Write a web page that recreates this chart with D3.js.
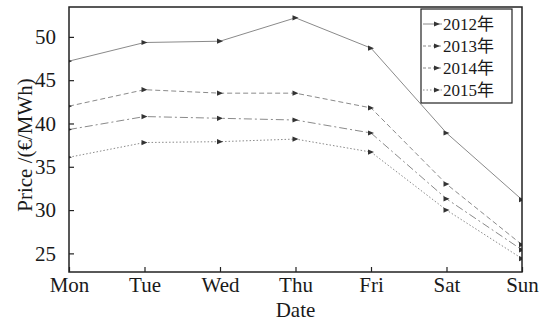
<!DOCTYPE html>
<html>
<head>
<meta charset="utf-8">
<script src="https://cdn.jsdelivr.net/npm/d3@7"></script>
<style>
  body { margin: 0; background: #fff; }
  text { font-family: "Liberation Serif", "Noto Sans CJK SC", serif; fill: #1a1a1a; }
</style>
</head>
<body>
<div id="chart"></div>
<script>
const width = 548;
const height = 323;

// data
const days = ["Mon", "Tue", "Wed", "Thu", "Fri", "Sat", "Sun"];
const years = ["2012年", "2013年", "2014年", "2015年"];
const price2012 = [47.2, 49.35, 49.5, 52.2, 48.7, 38.9, 31.2];
const price2013 = [42.0, 43.9, 43.5, 43.5, 41.8, 33.0, 26.0];
const price2014 = [39.3, 40.8, 40.6, 40.4, 38.9, 31.3, 25.4];
const price2015 = [36.1, 37.8, 37.9, 38.2, 36.7, 30.0, 24.4];
const yTicks = [25, 30, 35, 40, 45, 50];

const series = [price2012, price2013, price2014, price2015];
const dashes = [null, "5,3", "8,3,2,3", "1.5,2"];
const fontSize = "21px";

const margin = { top: 7, right: 26, bottom: 51, left: 69 };
const plotW = width - margin.left - margin.right;
const plotH = height - margin.top - margin.bottom;

const x = d3.scalePoint().domain(days).range([0, plotW]);
const y = d3.scaleLinear().domain([22.85, 53.45]).range([plotH, 0]);

const svg = d3
  .select("#chart")
  .append("svg")
  .attr("width", width)
  .attr("height", height);

svg.append("defs")
  .append("clipPath")
  .attr("id", "plot-clip")
  .append("rect")
  .attr("width", plotW)
  .attr("height", plotH);

const g = svg
  .append("g")
  .attr("transform", `translate(${margin.left},${margin.top})`);

// triangle pointing right
const tri = "M-3,-2.6 L3,0 L-3,2.6 Z";

// series lines and markers
const plot = g.append("g").attr("clip-path", "url(#plot-clip)");
const line = d3
  .line()
  .x((d, i) => x(days[i]))
  .y((d) => y(d));

series.forEach((vals, s) => {
  plot
    .append("path")
    .datum(vals)
    .attr("d", line)
    .attr("fill", "none")
    .attr("stroke", "#8a8a8a")
    .attr("stroke-width", 1)
    .attr("stroke-dasharray", dashes[s]);

  plot
    .selectAll(null)
    .data(vals)
    .enter()
    .append("path")
    .attr("d", tri)
    .attr("transform", (d, i) => `translate(${x(days[i])},${y(d)})`)
    .attr("fill", "#333");
});

// axes with inward ticks
const xAxis = g
  .append("g")
  .attr("transform", `translate(0,${plotH})`)
  .call(d3.axisBottom(x).tickSize(-5).tickPadding(11));
const yAxis = g
  .append("g")
  .call(d3.axisLeft(y).tickValues(yTicks).tickSize(-5).tickPadding(13));

[xAxis, yAxis].forEach((a) => {
  a.select(".domain").remove();
  a.selectAll(".tick line").attr("stroke", "#222").attr("stroke-width", 1.2);
  a.selectAll(".tick text")
    .style("font-size", fontSize)
    .style("font-family", '"Liberation Serif", serif')
    .attr("fill", "#1a1a1a");
});
xAxis.selectAll(".tick text").attr("dy", "0.45em");

// frame
g.append("rect")
  .attr("width", plotW)
  .attr("height", plotH)
  .attr("fill", "none")
  .attr("stroke", "#222")
  .attr("stroke-width", 1.5);

// axis titles
svg
  .append("text")
  .attr("x", margin.left + plotW / 2)
  .attr("y", 317)
  .attr("text-anchor", "middle")
  .style("font-size", fontSize)
  .text("Date");

svg
  .append("text")
  .attr("transform", `translate(32,145) rotate(-90)`)
  .attr("text-anchor", "middle")
  .style("font-size", fontSize)
  .text("Price /(€/MWh)");

// legend
const rowGap = 22;
const legend = svg.append("g").attr("transform", "translate(421,9)");
legend
  .append("rect")
  .attr("width", 91)
  .attr("height", 94)
  .attr("fill", "#fff")
  .attr("stroke", "#222")
  .attr("stroke-width", 1.2);

years.forEach((name, s) => {
  const row = legend.append("g").attr("transform", `translate(0,${15 + s * rowGap})`);
  row
    .append("line")
    .attr("x1", 2)
    .attr("x2", 21)
    .attr("stroke", "#8a8a8a")
    .attr("stroke-width", 1)
    .attr("stroke-dasharray", dashes[s] ? (s === 3 ? "1.5,2" : "3,2") : null);
  row.append("path").attr("d", tri).attr("transform", "translate(16,0)").attr("fill", "#333");
  row
    .append("text")
    .attr("x", 22)
    .attr("y", 6)
    .style("font-size", "17px")
    .text(name);
});
</script>
</body>
</html>
